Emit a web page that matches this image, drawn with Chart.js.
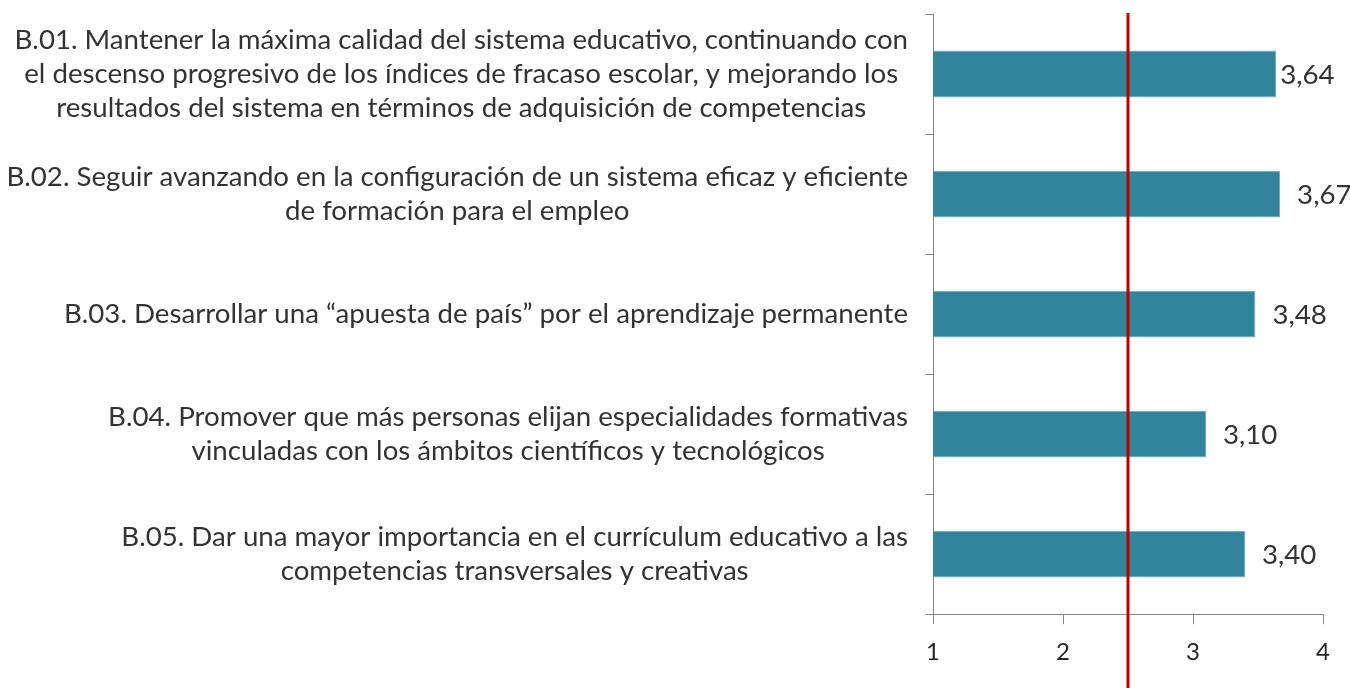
<!DOCTYPE html>
<html>
<head>
<meta charset="utf-8">
<script src="https://cdn.jsdelivr.net/npm/chart.js@4.4.0/dist/chart.umd.min.js"></script>
<style>
    html, body { margin: 0; padding: 0; background: #fff; }
    #wrap { width: 1350px; height: 688px; }
</style>
</head>
<body>
<div id="wrap"><canvas id="myChart" width="1350" height="688"></canvas></div>
<script>
const categories = [
    ["B.01. Mantener la máxima calidad del sistema educativo, continuando con",
     "el descenso progresivo de los índices de fracaso escolar, y mejorando los",
     "resultados del sistema en términos de adquisición de competencias"],
    ["B.02. Seguir avanzando en la configuración de un sistema eficaz y eficiente",
     "de formación para el empleo"],
    ["B.03. Desarrollar una “apuesta de país” por el aprendizaje permanente"],
    ["B.04. Promover que más personas elijan especialidades formativas",
     "vinculadas con los ámbitos científicos y tecnológicos"],
    ["B.05. Dar una mayor importancia en el currículum educativo a las",
     "competencias transversales y creativas"],
];
const values = [3.64, 3.67, 3.48, 3.10, 3.40];
const xTicks = [1, 2, 3, 4];
const referenceValue = 2.5;

const FONT = "Lato";
const TEXT = "#333333";
const AXIS = "#868686";

// scale text so the longest line is about as wide as in the original (Calibri)
const measure = document.createElement("canvas").getContext("2d");
measure.font = `24px ${FONT}`;
const labelSize = 24 * 894 / measure.measureText(categories[0][0]).width;

const textPlugin = {
    id: "textPlugin",
    afterDatasetsDraw(chart) {
        const { ctx, scales: { x, y } } = chart;
        ctx.save();
        // red reference line
        const rx = x.getPixelForValue(referenceValue);
        ctx.strokeStyle = "#C00000";
        ctx.lineWidth = 3;
        ctx.beginPath();
        ctx.moveTo(rx, chart.chartArea.top - 1);
        ctx.lineTo(rx, chart.height);
        ctx.stroke();

        ctx.font = `${labelSize}px ${FONT}`;
        ctx.fillStyle = TEXT;
        ctx.textBaseline = "middle";

        // category labels: block right-aligned, lines centred
        ctx.textAlign = "center";
        const right = y.left - 17;
        categories.forEach((lines, i) => {
            const yc = y.getPixelForValue(i);
            const w = Math.max(...lines.map((l) => ctx.measureText(l).width));
            lines.forEach((l, j) => {
                ctx.fillText(l, right - w / 2, yc + (j - (lines.length - 1) / 2) * 34);
            });
        });

        // value labels (the first one sits tight against its bar, as in the original)
        ctx.textAlign = "left";
        values.forEach((v, i) => {
            const gap = i === 0 ? 4 : 17;
            ctx.fillText(v.toFixed(2).replace(".", ","), x.getPixelForValue(v) + gap, y.getPixelForValue(i) + 1);
        });
        ctx.restore();
    },
};

function main() {
    const ctx = document.getElementById("myChart");

    new Chart(ctx, {
        type: "bar",
        data: {
            labels: categories,
            datasets: [
                {
                    data: values,
                    backgroundColor: "#31849B",
                    borderColor: "#6FAABD",
                    borderWidth: 1,
                    categoryPercentage: 1,
                    barPercentage: 0.39,
                },
            ],
        },
        options: {
            indexAxis: "y",
            responsive: false,
            animation: false,
            layout: {
                padding: { left: 925, top: 14, right: 27, bottom: 7 },
            },
            plugins: {
                legend: { display: false },
                tooltip: { enabled: false },
            },
            scales: {
                y: {
                    grid: {
                        drawOnChartArea: false,
                        color: AXIS,
                        tickLength: 8,
                        offset: true,
                    },
                    border: { color: AXIS, width: 1 },
                    ticks: { display: false },
                },
                x: {
                    min: 1,
                    max: 4,
                    afterBuildTicks: (axis) => {
                        axis.ticks = xTicks.map((v) => ({ value: v }));
                    },
                    grid: {
                        drawOnChartArea: false,
                        color: AXIS,
                        tickLength: 10,
                    },
                    border: { color: AXIS, width: 1 },
                    ticks: {
                        font: { family: FONT, size: 24 },
                        color: "#262626",
                        padding: 14,
                    },
                },
            },
        },
        plugins: [textPlugin],
    });
}

main();
</script>
</body>
</html>
